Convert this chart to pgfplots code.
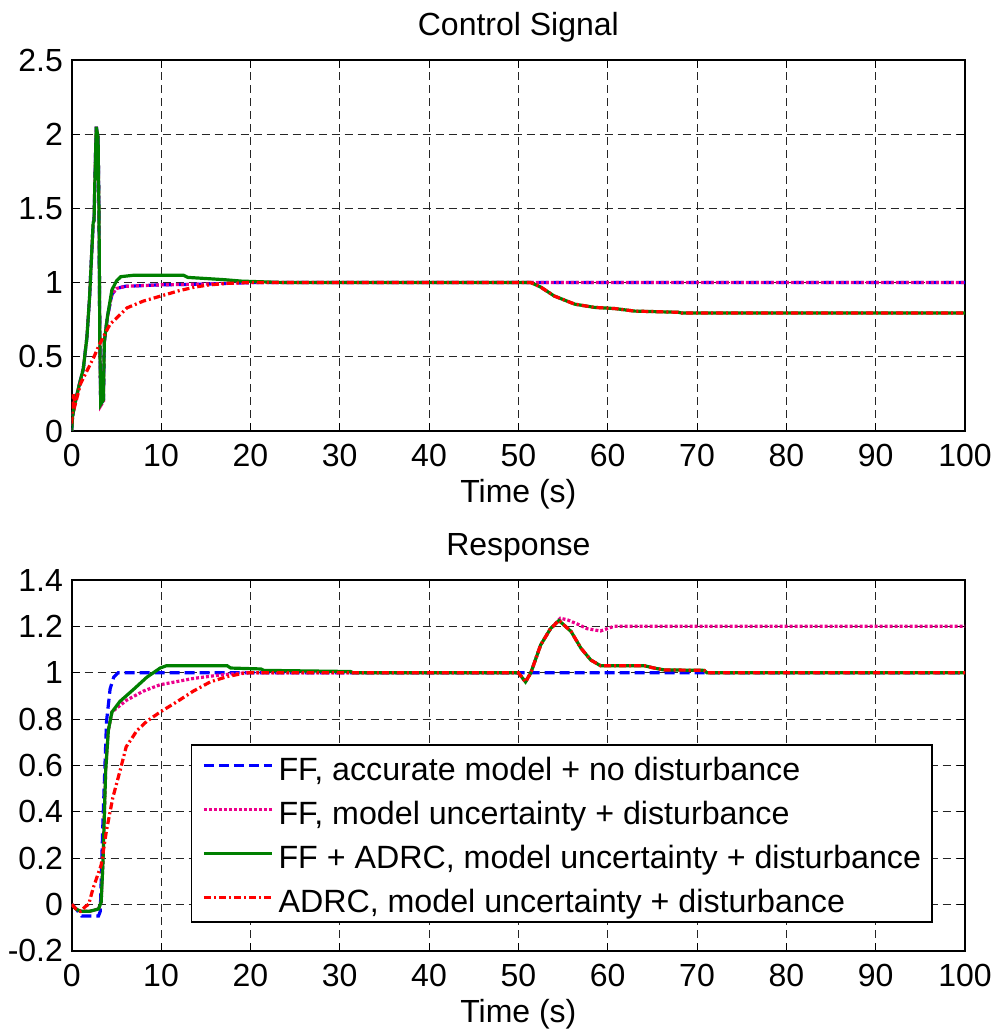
\documentclass[border=0pt]{standalone}
\usepackage{pgfplots}
\pgfplotsset{compat=1.18}
\usepackage{fontspec}
\setmainfont{Liberation Sans}
\definecolor{mgreen}{rgb}{0,0.5,0}
\begin{document}
\fontsize{16}{19}\selectfont
\begin{tikzpicture}[font=\fontsize{16}{19}\selectfont]
\pgfplotsset{
  myaxis/.style={
    scale only axis, width=446.65pt,
    xmin=0, xmax=100,
    xtick={0,10,...,100},
    xticklabels={0,10,20,30,40,50,60,70,80,90,100},
    grid=major,
    major grid style={black!85, line width=0.45pt, dash pattern=on 4pt off 2.5pt},
    tick align=inside, major tick length=4pt,
    tick style={black, line width=0.5pt},
    axis line style={line width=0.9pt},
    xticklabel style={anchor=base, yshift=-17.75pt, inner sep=0pt},
    yticklabel style={anchor=east, xshift=-4.2pt, inner sep=0pt},
    title style={at={(axis description cs:0.5,1)}, anchor=base, yshift=6.2pt, inner sep=0pt},
    xlabel style={at={(axis description cs:0.5,0)}, anchor=base, yshift=-36pt, inner sep=0pt},
    xlabel={Time (s)},
  },
  sblue/.style={blue, line width=1.6pt, dash pattern=on 5pt off 2.5pt},
  smag/.style={magenta, line width=1.6pt, dash pattern=on 1.5pt off 1pt},
  sgreen/.style={mgreen, line width=1.6pt, solid},
  sred/.style={red, line width=1.6pt, dash pattern=on 3.5pt off 1.5pt on 1pt off 1.5pt},
}
\path[use as bounding box] (-35.85pt,-300.5pt) rectangle (464.15pt,215.5pt);

% ---------------- Control signal ----------------
\begin{axis}[myaxis, at={(0,0)}, anchor=south west, height=185.5pt,
  ymin=0, ymax=2.5, ytick={0,0.5,1,1.5,2,2.5}, yticklabels={0,0.5,1,1.5,2,2.5},
  title={Control Signal}]
\addplot[sblue] coordinates {
(0,0) (0.1,0.1) (0.3,0.17) (0.8,0.3) (1.3,0.42) (1.7,0.63) (2.0,0.9) (2.2,1.15) (2.4,1.40) (2.5,1.42) (2.6,1.7) (2.75,2.05) (2.95,1.98) (3.05,1.5) (3.15,0.6) (3.25,0.18) (3.55,0.21) (3.65,0.6) (4.0,0.77) (4.5,0.92) (5.0,0.96) (6,0.975) (10,0.985) (15,0.99) (20,1.0) (100,1.0)};
\addplot[smag] coordinates {
(0,0) (0.1,0.1) (0.3,0.17) (0.8,0.3) (1.3,0.42) (1.7,0.63) (2.0,0.9) (2.2,1.15) (2.4,1.40) (2.5,1.42) (2.6,1.7) (2.75,2.05) (2.95,1.98) (3.05,1.5) (3.15,0.6) (3.25,0.17) (3.55,0.2) (3.65,0.6) (4.0,0.77) (4.5,0.92) (5.0,0.96) (6,0.975) (10,0.985) (15,0.99) (20,1.0) (100,1.0)};
\addplot[sgreen] coordinates {
(0,0) (0.1,0.1) (0.3,0.17) (0.8,0.3) (1.3,0.42) (1.7,0.63) (2.0,0.9) (2.2,1.15) (2.4,1.40) (2.5,1.42) (2.6,1.7) (2.75,2.05) (2.95,1.98) (3.05,1.5) (3.15,0.6) (3.25,0.18) (3.55,0.21) (3.65,0.6) (4.0,0.77) (4.5,0.95) (5.0,1.01) (5.5,1.04) (7,1.05) (12.5,1.05) (13,1.035) (17,1.02) (19,1.01) (24,1.0) (50,1.0) (51.4,1.0) (52.5,0.97) (54,0.91) (56.3,0.855) (58.5,0.833) (60.8,0.825) (63,0.808) (67.9,0.80) (68.3,0.795) (100,0.795)};
\addplot[sred] coordinates {
(0,0.05) (0.15,0.25) (0.4,0.18) (1,0.32) (1.5,0.38) (2,0.44) (2.5,0.50) (3,0.57) (3.5,0.63) (4.3,0.72) (5,0.76) (6.2,0.83) (8,0.875) (10,0.91) (12,0.945) (13.8,0.97) (15.5,0.985) (17.5,0.995) (19.5,1.0) (50,1.0) (51.4,1.0) (52.5,0.97) (54,0.91) (56.3,0.855) (58.5,0.833) (60.8,0.825) (63,0.808) (67.9,0.80) (68.3,0.795) (100,0.795)};
\end{axis}

% ---------------- Response ----------------
\begin{axis}[myaxis, at={(0,-259.85pt)}, anchor=south west, height=185.35pt,
  ymin=-0.2, ymax=1.4, ytick={-0.2,0,0.2,0.4,0.6,0.8,1,1.2,1.4},
  yticklabels={-0.2,0,0.2,0.4,0.6,0.8,1,1.2,1.4},
  title={Response},
  legend cell align=left,
  legend image code/.code={\draw[#1] (0pt,1pt) -- (34pt,1pt);},
  legend style={at={(0.964,0.0747)}, anchor=south east, draw=black, line width=0.8pt,
    fill=white, inner xsep=5.5pt, inner ysep=2pt, row sep=3.35pt, column sep=2.5pt,
    nodes={inner sep=0pt, text height=15.66pt, text depth=2.99pt},
    font=\fontsize{16.1}{19}\selectfont},
  ]
\addplot[sblue] coordinates {
(0,0) (0.5,-0.02) (1.1,-0.05) (3.0,-0.05) (3.2,-0.03) (3.5,0.36) (3.9,0.79) (4.3,0.93) (4.7,0.98) (5.2,1.0) (100,1.0)};
\addlegendentry{FF, accurate model + no disturbance}
\addplot[smag] coordinates {
(0,0) (0.5,-0.02) (1,-0.03) (2,-0.03) (3,-0.02) (3.3,0.01) (3.5,0.18) (3.8,0.575) (4.1,0.75) (4.5,0.83) (6.1,0.88) (8,0.92) (9.9,0.948) (13.6,0.975) (16.6,0.99) (19.6,1.0) (50,1.0) (50.8,0.96) (51.4,1.0) (52.5,1.12) (53.6,1.19) (54.7,1.235) (55.5,1.228) (56.6,1.21) (57.7,1.19) (59.2,1.18) (60.7,1.2) (100,1.2)};
\addlegendentry{FF, model uncertainty + disturbance}
\addplot[sgreen] coordinates {
(0,0) (0.5,-0.02) (1,-0.03) (2,-0.03) (3,-0.02) (3.3,0.01) (3.5,0.18) (3.8,0.575) (4.1,0.75) (4.5,0.83) (5.4,0.876) (6.9,0.927) (8.4,0.98) (9.9,1.02) (10.6,1.03) (17.4,1.03) (17.8,1.02) (21.2,1.016) (21.5,1.01) (31.2,1.005) (31.5,1.0) (50,1.0) (50.8,0.96) (51.4,1.0) (52.5,1.12) (53.6,1.19) (54.55,1.225) (55.9,1.178) (57.0,1.106) (58.1,1.055) (59.2,1.03) (64.1,1.03) (65.2,1.02) (66.3,1.012) (70.8,1.01) (71.1,1.0) (100,1.0)};
\addlegendentry{FF + ADRC, model uncertainty + disturbance}
\addplot[sred] coordinates {
(0,0) (0.5,-0.02) (1,-0.03) (1.5,-0.01) (1.9,0.0) (2.4,0.07) (3.3,0.17) (3.9,0.32) (4.6,0.46) (5.4,0.575) (6.1,0.68) (7.3,0.75) (8.4,0.79) (9.9,0.83) (11.8,0.875) (13.6,0.92) (15.5,0.96) (17.4,0.983) (19.2,0.997) (20,1.0) (50,1.0) (50.8,0.96) (51.4,1.0) (52.5,1.12) (53.6,1.19) (54.55,1.225) (55.9,1.178) (57.0,1.106) (58.1,1.055) (59.2,1.03) (64.1,1.03) (65.2,1.02) (66.3,1.012) (70.8,1.01) (71.1,1.0) (100,1.0)};
\addlegendentry{ADRC, model uncertainty + disturbance}
\end{axis}
\end{tikzpicture}
\end{document}
